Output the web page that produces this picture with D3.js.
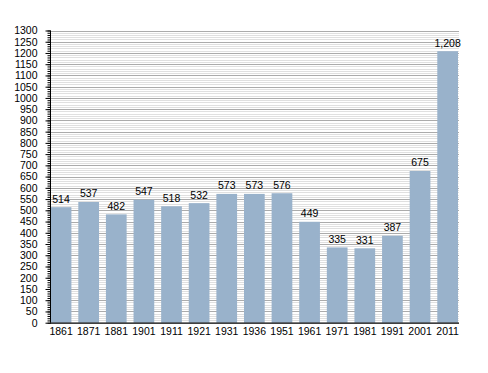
<!DOCTYPE html>
<html>
<head>
<meta charset="utf-8">
<script src="https://cdn.jsdelivr.net/npm/d3@7"></script>
<style>
body { margin:0; background:#fff; }
text { font-family: "Liberation Sans", Arial, sans-serif; }
</style>
</head>
<body>
<script>
// DATA

var years = ["1861","1871","1881","1901","1911","1921","1931","1936","1951","1961","1971","1981","1991","2001","2011"];
var population = [514,537,482,547,518,532,573,573,576,449,335,331,387,675,1208];
var y_ticks_major = d3.range(0, 1301, 50);
var y_ticks_minor = d3.range(0, 1301, 10);

var width = 488;
var height = 373;

var plot_left = 50;
var plot_right = 459;
var plot_top = 30.5;
var plot_bottom = 322.7;

var svg = d3.select("body")
	.append("svg")
	.attr("width", width)
	.attr("height", height);

var x = d3.scaleBand()
	.domain(years)
	.range([50.7, 458])
	.paddingInner(0.25)
	.paddingOuter(0);

var y = d3.scaleLinear()
	.domain([0, 1300])
	.range([plot_bottom, plot_top]);

// GRID LINES
svg.append("g")
	.selectAll("line")
	.data(y_ticks_minor.filter(function(d){ return d % 50 != 0 }))
	.enter()
	.append("line")
	.attr("x1", plot_left)
	.attr("x2", plot_right)
	.attr("y1", function(d){ return Math.round(y(d)) + 0.5 })
	.attr("y2", function(d){ return Math.round(y(d)) + 0.5 })
	.attr("stroke", "#e0e0e0")
	.attr("stroke-width", 1);

svg.append("g")
	.selectAll("line")
	.data(y_ticks_major.filter(function(d){ return d > 0 }))
	.enter()
	.append("line")
	.attr("x1", plot_left)
	.attr("x2", plot_right)
	.attr("y1", function(d){ return Math.round(y(d)) + 0.5 })
	.attr("y2", function(d){ return Math.round(y(d)) + 0.5 })
	.attr("stroke", "#ababab")
	.attr("stroke-width", 1);

// BARS
svg.append("g")
	.selectAll("rect")
	.data(population)
	.enter()
	.append("rect")
	.attr("x", function(d, i){ return x(years[i]) })
	.attr("y", function(d){ return y(d) })
	.attr("width", x.bandwidth())
	.attr("height", function(d){ return plot_bottom - y(d) })
	.attr("fill", "#99b2cb");

// VALUE LABELS
svg.append("g")
	.selectAll("text")
	.data(population)
	.enter()
	.append("text")
	.attr("x", function(d, i){ return x(years[i]) + x.bandwidth()/2 })
	.attr("y", function(d){ return y(d) - 4.5 })
	.attr("text-anchor", "middle")
	.attr("font-size", "10.5px")
	.attr("fill", "#000")
	.text(function(d){ return d3.format(",")(d) });

// Y AXIS
var y_axis = d3.axisLeft(y)
	.tickValues(y_ticks_major)
	.tickSize(5)
	.tickPadding(8)
	.tickFormat(d3.format("d"));

var y_axis_minor = d3.axisLeft(y)
	.tickValues(y_ticks_minor)
	.tickSize(3)
	.tickFormat("");

svg.append("g")
	.attr("transform", "translate(" + (plot_left + 0.5) + ",0)")
	.call(y_axis_minor)
	.call(function(g){ g.select(".domain").remove() });

var gy = svg.append("g")
	.attr("transform", "translate(" + (plot_left + 0.5) + ",0)")
	.call(y_axis);
gy.select(".domain").attr("d", "M0," + plot_top + "V" + plot_bottom).attr("stroke", "#000");
gy.selectAll("text").attr("font-size", "10.5px").attr("fill", "#000").attr("font-family", "Liberation Sans, Arial, sans-serif");

// X AXIS
var x_axis = d3.axisBottom(x)
	.tickSize(0)
	.tickPadding(4.5);

var gx = svg.append("g")
	.attr("transform", "translate(0," + (plot_bottom + 0.5) + ")")
	.call(x_axis);
gx.select(".domain").attr("d", "M" + plot_left + ",0H" + plot_right).attr("stroke", "#000").attr("stroke-width", 1.3);
gx.selectAll("text").attr("font-size", "10.5px").attr("fill", "#000").attr("font-family", "Liberation Sans, Arial, sans-serif");
</script>
</body>
</html>
